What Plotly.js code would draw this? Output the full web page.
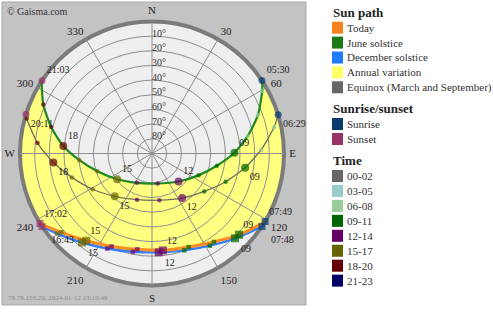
<!DOCTYPE html>
<html><head><meta charset="utf-8">
<script src="https://cdn.plot.ly/plotly-3.0.1.min.js"></script>
<style>html,body{margin:0;padding:0;background:#fff;}#chart{width:493px;height:316px;}</style>
</head><body><div id="chart"></div>
<script>
// ---------- data: azimuth (deg from N, clockwise) and elevation (deg) ----------
// June solstice path
const juneTime = ['04','05','05:30','06','07','08','09','10','11','12','13','14','15','16','17','18','19','20','21:03','22','23'];
const juneAz   = [38, 50, 56.4, 60.3, 70.1, 79.6, 89.5, 100.7, 115.2, 136.5, 169.4, 207.3, 233.5, 252, 264.7, 274.8, 284.7, 294.3, 303.5, 315, 327];
const juneEl   = [-13.5, -5.4, 0, 3.5, 13.2, 23.6, 33.8, 45, 55, 63.7, 69.2, 67.5, 60.5, 50.8, 40.3, 29.3, 18.9, 8.7, 0, -8.8, -16];
// middle (equinox-labelled) path
const midTime = ['06','06:29','07','08','09','10','11','12','13','14','15','16','17','18','19','20','20:11','21'];
const midAz   = [67.6, 72.9, 77.8, 88, 98.7, 111, 126, 146, 171, 198, 221, 239, 253.4, 264.8, 275.2, 285.6, 287.3, 296];
const midEl   = [-6, 0, 4.8, 15.5, 25.8, 36.2, 46, 53.3, 57.8, 56.9, 51.3, 42.7, 33, 22.5, 11.6, 1.3, 0, -9.3];
// Today (2024-01-12)
const todayTime = ['07','07:49','09','10','11','12','13','14','15','16','17:02','18'];
const todayAz   = [111.5, 121, 133, 145, 158.6, 173.6, 188.7, 203.5, 217, 229, 238, 249.8];
const todayEl   = [-9, 0, 8.8, 16.4, 21.5, 23.5, 23.9, 20.9, 15.5, 8.1, 0, -11];
// December solstice
const decTime = ['07','07:48','09','10','11','12','13','14','15','16','16:43','17','18'];
const decAz   = [114.4, 123.6, 135.6, 147.9, 161.5, 176.1, 191, 205.2, 218.2, 229.9, 236.4, 240.4, 250.2];
const decEl   = [-8.6, 0, 9.1, 15.8, 20.4, 22.5, 21.8, 18.4, 12.8, 5.3, 0, -3.6, -13.4];
// axes
const azTickVals = [0,30,60,90,120,150,180,210,240,270,300,330];
const azTickText = ['N','30','60','E','120','150','S','210','240','W','300','330'];
const elRingVals = [10,20,30,40,50,60,70,80];
// legend
const sunPathNames  = ['Today','June solstice','December solstice','Annual variation','Equinox (March and September)'];
const sunPathColors = ['#f7821f','#1a7a1a','#1f7bff','#ffff66','#666666'];
const riseSetNames  = ['Sunrise','Sunset'];
const riseSetColors = ['#0a3a6e','#993366'];
const timeBins   = ['00-02','03-05','06-08','09-11','12-14','15-17','18-20','21-23'];
const timeColors = ['#666666','#99cccc','#99cc99','#006600','#660066','#666600','#660000','#000066'];
const bigHours = [9,12,15,18];

// ---------- geometry helpers ----------
const W=493,H=316, cx=152, cy=153.5, R=132;
const px = x => x/W, py = y => 1 - y/H;
const dom = {x:[px(cx-R), px(cx+R)], y:[py(cy+R), py(cy-R)]};
const zd = el => 90 - el;
const hourOf = t => parseInt(t,10);
const isEvent = t => t.indexOf(':') >= 0;
const FONT = 'Liberation Serif';

function outerArc(fromAz, toAz, step){ // decreasing azimuths, outside the horizon (clipped)
  const th=[fromAz]; let a=Math.floor(fromAz/step)*step; if(a===fromAz) a-=step;
  for(; a>toAz; a-=step) th.push(a); th.push(toAz); return th;
}
function fillTrace(az, el, color){
  const arc = outerArc(az[az.length-1], az[0], 30);
  return {type:'scatterpolar', subplot:'polar', r: el.map(zd).concat(arc.map(()=>118)), theta: az.concat(arc),
    mode:'lines', fill:'toself', fillcolor:color, line:{width:0, color:color, shape:'spline', smoothing:0.6},
    hoverinfo:'skip', showlegend:false};
}
function lineTrace(az, el, color, width){
  return {type:'scatterpolar', subplot:'polar2', r: el.map(zd), theta: az, mode:'lines',
    line:{color:color, width:width, shape:'spline', smoothing:0.6}, cliponaxis:false, hoverinfo:'skip', showlegend:false};
}
function markerTrace(times, az, el, symbol){
  const col=[], size=[];
  times.forEach(t => {
    if(isEvent(t)){ col.push(hourOf(t)<12 ? riseSetColors[0] : riseSetColors[1]); size.push(7); }
    else { col.push(timeColors[Math.floor(hourOf(t)/3)]); size.push(bigHours.indexOf(hourOf(t))>=0 ? 8 : 4.5); }
  });
  return {type:'scatterpolar', subplot:'polar2', r: el.map(zd), theta: az, mode:'markers',
    marker:{symbol:symbol, color:col, size:size, line:{width:0}}, cliponaxis:false, hoverinfo:'skip', showlegend:false};
}
function labelTrace(times, az, el, pos, gap, eventGap){
  const r=[], th=[], tx=[], g=[];
  times.forEach((t,i) => {
    if(el[i] < 0) return;
    if(isEvent(t) || bigHours.indexOf(hourOf(t))>=0){
      r.push(zd(el[i])); th.push(az[i]); tx.push(t); g.push(isEvent(t) ? eventGap : gap);
    }
  });
  return {type:'scatterpolar', subplot:'polar2', r:r, theta:th, text:tx, mode:'markers+text', textposition:pos,
    marker:{size:g, opacity:0}, textfont:{family:FONT, size:10, color:'#222'}, cliponaxis:false, hoverinfo:'skip', showlegend:false};
}
// elevation ring labels, placed just outside each ring along the north line
const ringLabels = {type:'scatterpolar', subplot:'polar2', r: elRingVals.map(v => v + 1.4), theta: elRingVals.map(() => 0),
  text: elRingVals.map(v => (90-v)+'°'), mode:'text', textposition:'middle right',
  textfont:{family:FONT, size:10, color:'#333'}, cliponaxis:false, hoverinfo:'skip', showlegend:false};

const data = [
  fillTrace(juneAz, juneEl, '#ffff80'),
  fillTrace(decAz, decEl, '#efefef'),
  ringLabels,
  lineTrace(midAz, midEl, '#6e6e5e', 1.3),
  lineTrace(juneAz, juneEl, '#1e8a1e', 2.2),
  lineTrace(decAz, decEl, '#2f80ff', 2.4),
  lineTrace(todayAz, todayEl, '#ff8a1f', 3),
  markerTrace(midTime, midAz, midEl, 'circle'),
  markerTrace(juneTime, juneAz, juneEl, 'circle'),
  markerTrace(decTime, decAz, decEl, 'square'),
  markerTrace(todayTime, todayAz, todayEl, 'square'),
  labelTrace(juneTime, juneAz, juneEl, 'top right', 6, 6),
  labelTrace(midTime, midAz, midEl, 'bottom right', 6, 6),
  labelTrace(todayTime, todayAz, todayEl, 'top right', 5, 5),
  labelTrace(decTime, decAz, decEl, 'bottom right', 8, 13)
];

// ---------- legend (annotations + swatches) ----------
const annotations = [], shapes = [];
shapes.push({type:'rect', xref:'paper', yref:'paper', x0:px(2), x1:px(306), y0:py(305), y1:py(2),
  fillcolor:'#c3c3c3', line:{color:'#a8a8a8', width:1}, layer:'below'});
function title(text, y){ annotations.push({xref:'paper', yref:'paper', x:px(331), y:py(y), xanchor:'left', yanchor:'middle',
  text:'<b>'+text+'</b>', showarrow:false, font:{family:FONT, size:13, color:'#222'}}); }
function item(text, color, y){
  shapes.push({type:'rect', xref:'paper', yref:'paper', x0:px(332), x1:px(343), y0:py(y+6), y1:py(y-6), fillcolor:color, line:{width:0}});
  annotations.push({xref:'paper', yref:'paper', x:px(345), y:py(y), xanchor:'left', yanchor:'middle', text:text, showarrow:false,
    font:{family:FONT, size:11, color:'#333'}});
}
title('Sun path', 12.5);
sunPathNames.forEach((n,i) => item(n, sunPathColors[i], 27.7 + i*14.9));
title('Sunrise/sunset', 108.3);
riseSetNames.forEach((n,i) => item(n, riseSetColors[i], 124 + i*15));
title('Time', 160);
timeBins.forEach((n,i) => item(n, timeColors[i], 176 + i*14.95));
annotations.push({xref:'paper', yref:'paper', x:px(5), y:py(12), xanchor:'left', yanchor:'middle', text:'© Gaisma.com',
  showarrow:false, font:{family:FONT, size:10, color:'#333'}});
annotations.push({xref:'paper', yref:'paper', x:px(6), y:py(298), xanchor:'left', yanchor:'middle', text:'78.78.153.20, 2024-01-12 13:19:49',
  showarrow:false, font:{family:FONT, size:7, color:'#8a8a8a'}});

const layout = {
  width:W, height:H, margin:{l:0,r:0,t:0,b:0}, paper_bgcolor:'#ffffff', showlegend:false,
  font:{family:FONT},
  annotations:annotations, shapes:shapes,
  polar:{domain:dom, bgcolor:'#efefef',
    radialaxis:{range:[0,90], visible:false},
    angularaxis:{rotation:90, direction:'clockwise', tickmode:'array', tickvals:azTickVals, ticktext:azTickText,
      showgrid:false, showline:true, linecolor:'#7b7b7b', linewidth:4, ticks:'outside', ticklen:1, tickcolor:'rgba(0,0,0,0)',
      tickfont:{family:FONT, size:11, color:'#222'}}},
  polar2:{domain:dom, bgcolor:'rgba(0,0,0,0)',
    radialaxis:{range:[0,90], angle:90, tickmode:'array', tickvals:elRingVals, showticklabels:false,
      showline:false, ticks:'', showgrid:true, gridcolor:'#8e8e8e', gridwidth:1},
    angularaxis:{rotation:90, direction:'clockwise', tickmode:'array', tickvals:azTickVals, showticklabels:false,
      showline:false, ticks:'', showgrid:true, gridcolor:'#8e8e8e', gridwidth:1}}
};
Plotly.newPlot('chart', data, layout, {staticPlot:true, displayModeBar:false});
</script></body></html>
